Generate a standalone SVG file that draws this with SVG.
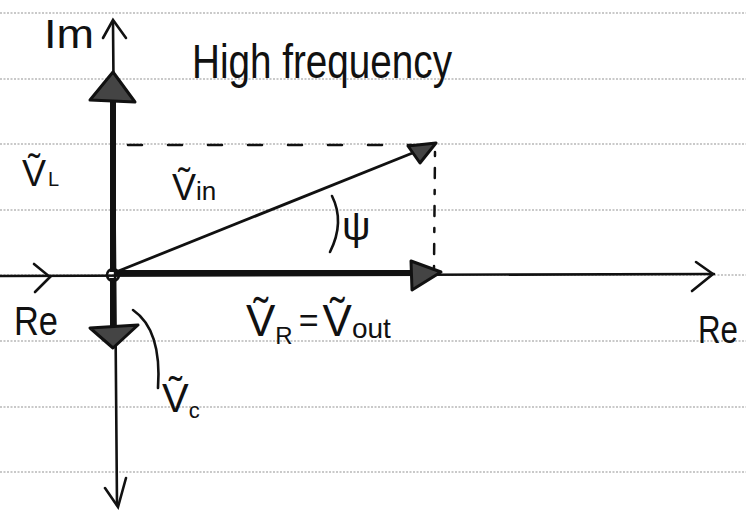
<svg xmlns="http://www.w3.org/2000/svg" width="746" height="510" viewBox="0 0 746 510">
<style>
.rule{stroke:#b8b8b8;stroke-width:1.6;stroke-dasharray:2 1.5}
.ax{stroke:#111;stroke-width:2.6;fill:none;stroke-linecap:round}
.vec{stroke:#111;stroke-width:6;fill:none}
.thin{stroke:#111;stroke-width:2.8;fill:none}
.head{stroke:#111;stroke-width:3;fill:#444;stroke-linejoin:round}
.dash{stroke:#111;stroke-width:2.5;fill:none;stroke-linecap:round}
.t{font-family:"Liberation Sans","DejaVu Sans",sans-serif;fill:#111}
</style>
<rect width="746" height="510" fill="#fff"/>
<g id="paper">
<line class="rule" x1="0" y1="13" x2="746" y2="13"/>
<line class="rule" x1="0" y1="79" x2="746" y2="79"/>
<line class="rule" x1="0" y1="144" x2="746" y2="144"/>
<line class="rule" x1="0" y1="210" x2="746" y2="210"/>
<line class="rule" x1="0" y1="275" x2="746" y2="275"/>
<line class="rule" x1="0" y1="341" x2="746" y2="341"/>
<line class="rule" x1="0" y1="407" x2="746" y2="407"/>
<line class="rule" x1="0" y1="472" x2="746" y2="472"/>
</g>
<g id="connectors">
<g id="im-axis">
<path class="ax" d="M113 22 L117 505"/>
<path class="ax" d="M103 38 L113 20 L126 38"/>
<path class="ax" d="M105 488 L118 507 L126 478"/>
</g>
<g id="re-axis">
<path class="ax" d="M0 276 L714 274"/>
<path class="ax" d="M34 264 L50 277 L35 292"/>
<path class="ax" d="M696 262 L713 274 L692 291"/>
</g>
<g id="v-L">
<path class="vec" d="M113 272 L113 98"/>
<path class="head" d="M113 72 L135 102 L90 100 Z"/>
</g>
<g id="v-C">
<path class="vec" d="M113 278 L113 328"/>
<path class="head" d="M90 328 L138 325 L113 348 Z"/>
</g>
<g id="v-R">
<path class="vec" d="M116 273 L412 273"/>
<path class="head" d="M441 272 L411 261 L412 290 Z"/>
</g>
<g id="v-in">
<path class="thin" d="M116 272 L420 150"/>
<path class="head" d="M436 143 L408 146 L420 163 Z" fill="#111"/>
</g>
<circle cx="113" cy="275" r="6" fill="none" stroke="#111" stroke-width="2.5"/>
<path class="dash" d="M128 145 L412 145" stroke-dasharray="14 26"/>
<path class="dash" d="M435 152 L434 268" stroke-dasharray="4 12 10 12"/>
<path class="ax" d="M332 196 Q345 222 330 252"/>
<path class="ax" d="M133 310 Q162 330 158 388"/>
</g>
<g id="labels">
<text class="t" x="44" y="48" font-size="40" textLength="50" lengthAdjust="spacingAndGlyphs">Im</text>
<text class="t" x="192" y="78" font-size="48" textLength="260" lengthAdjust="spacingAndGlyphs">High frequency</text>
<text class="t" x="22" y="186" font-size="36">Ṽ<tspan font-size="20" dx="2">L</tspan></text>
<text class="t" x="172" y="200" font-size="36">Ṽ<tspan font-size="26">in</tspan></text>
<text class="t" x="342" y="240" font-size="40">ψ</text>
<text class="t" x="14" y="335" font-size="40" textLength="44" lengthAdjust="spacingAndGlyphs">Re</text>
<text class="t" x="698" y="343" font-size="38" textLength="40" lengthAdjust="spacingAndGlyphs">Re</text>
<text class="t" x="246" y="336" font-size="44">Ṽ<tspan font-size="24" dy="8">R</tspan><tspan font-size="34" dy="-12" dx="6">=</tspan><tspan font-size="44" dy="4" dx="4">Ṽ</tspan><tspan font-size="28" dy="2">out</tspan></text>
<text class="t" x="162" y="412" font-size="40">Ṽ<tspan font-size="22" dy="6">c</tspan></text>
</g>
</svg>
